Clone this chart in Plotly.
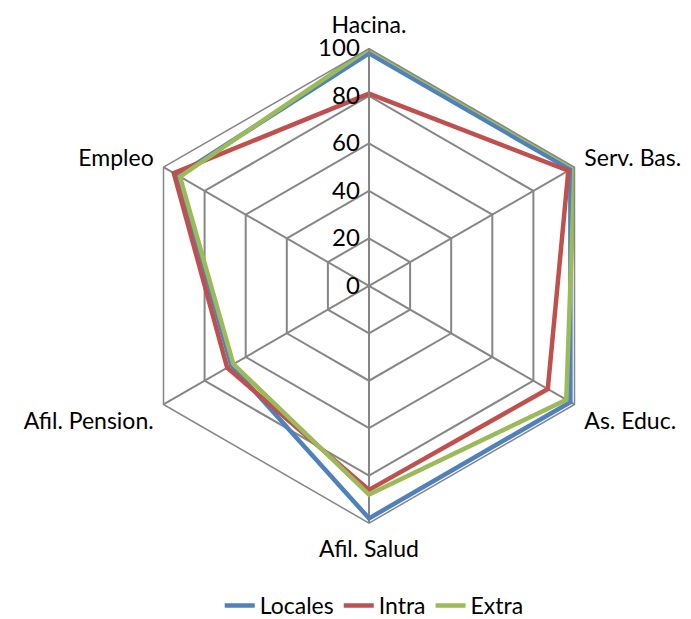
import plotly.graph_objects as go

categories = ["Hacina.", "Serv. Bas.", "As. Educ.", "Afil. Salud", "Afil. Pension.", "Empleo"]
locales = [98, 98, 98, 98, 67, 93]
intra = [81, 97, 87, 86, 69, 95]
extra = [100, 100, 96, 88, 66, 92]
radial_ticks = [0, 20, 40, 60, 80, 100]

series = [("Locales", locales, "#4F81BD"), ("Intra", intra, "#C0504D"), ("Extra", extra, "#9BBB59")]

fig = go.Figure()
for name, vals, color in series:
    fig.add_trace(go.Scatterpolar(
        r=vals + vals[:1], theta=categories + categories[:1], mode="lines", name=name,
        line=dict(color=color, width=4.5)))

FONT = "Lato"
FS = 23
GRID = "#868686"
fig.update_layout(
    width=691, height=619, margin=dict(l=0, r=0, t=0, b=0),
    paper_bgcolor="white", plot_bgcolor="white",
    font=dict(family=FONT, size=FS, color="black"),
    polar=dict(
        domain=dict(x=[121/691, 601/691], y=[98/619, 578/619]),
        bgcolor="white",
        gridshape="linear",
        angularaxis=dict(rotation=90, direction="clockwise", showline=True, linecolor=GRID,
                         linewidth=1.5, gridcolor=GRID, gridwidth=1.5,
                         ticks="outside", ticklen=6, tickcolor="rgba(0,0,0,0)",
                         tickfont=dict(family=FONT, size=FS, color="black")),
        radialaxis=dict(range=[0, 100], tickvals=radial_ticks, angle=90, showline=True,
                        linecolor=GRID, linewidth=1.5, gridcolor=GRID, gridwidth=1.5, ticks="",
                        tickfont=dict(family=FONT, size=24, color="black"), tickangle=90,
                        side="counterclockwise"),
    ),
    legend=dict(orientation="h", x=0.53, xanchor="center", y=0.023, yanchor="middle",
                font=dict(family=FONT, size=FS), tracegroupgap=0),
)

fig.write_html("out.html")
